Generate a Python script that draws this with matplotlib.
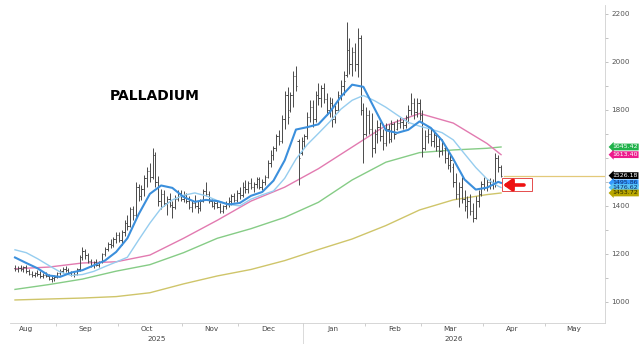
import matplotlib
matplotlib.use('Agg')
import matplotlib.pyplot as plt
import matplotlib.transforms as mtransforms
from matplotlib.patches import Rectangle
import numpy as np
import pandas as pd

# ---------------- data (daily OHLC, Palladium) ----------------
opens = [1140,1135,1142,1138,1145,1128,1118,1112,1120,1115,1106,1114,1108,1095,1100,1105,1120,1130,1138,1132,
         1120,1112,1118,1135,1185,1210,1195,1170,1155,1165,1152,1168,1198,1222,1240,1235,1262,1280,1258,1290,
         1330,1315,1385,1360,1480,1440,1470,1515,1545,1520,1610,1500,1420,1450,1410,1430,1405,1395,1430,1455,
         1430,1445,1420,1395,1410,1400,1390,1420,1460,1450,1420,1400,1410,1395,1380,1398,1412,1420,1440,1425,
         1455,1445,1480,1470,1495,1480,1490,1510,1478,1500,1520,1580,1610,1640,1690,1670,1760,1860,1800,1860,
         1940,1670,1620,1670,1690,1770,1810,1760,1860,1850,1890,1845,1800,1830,1760,1800,1860,1900,1945,2050,
         1990,2040,1990,2100,1800,1700,1780,1720,1640,1700,1730,1690,1660,1720,1680,1740,1720,1745,1750,1735,
         1770,1800,1830,1790,1830,1780,1640,1690,1700,1670,1695,1650,1630,1640,1600,1570,1560,1500,1450,1480,
         1430,1400,1420,1380,1350,1420,1450,1490,1480,1500,1485,1495,1600,1560]
highs = [1152,1148,1155,1150,1152,1138,1130,1125,1133,1128,1122,1126,1115,1110,1112,1125,1135,1146,1150,1142,
         1128,1125,1140,1195,1230,1222,1205,1180,1172,1178,1170,1205,1230,1250,1262,1270,1292,1290,1300,1342,
         1360,1396,1400,1500,1490,1485,1530,1560,1580,1640,1625,1525,1470,1468,1440,1455,1420,1445,1468,1465,
         1460,1455,1440,1425,1446,1420,1430,1470,1500,1462,1428,1420,1425,1410,1405,1420,1435,1450,1455,1465,
         1480,1500,1508,1505,1515,1500,1521,1520,1510,1530,1590,1633,1650,1700,1717,1780,1880,1895,1875,1960,
         1983,1680,1687,1700,1790,1842,1840,1880,1912,1905,1910,1870,1854,1850,1820,1880,1925,1960,2167,2100,
         2062,2080,2142,2110,1829,1812,1800,1787,1720,1758,1750,1720,1746,1740,1758,1750,1760,1771,1765,1780,
         1820,1871,1850,1850,1845,1800,1717,1729,1720,1710,1704,1690,1680,1646,1630,1610,1580,1537,1500,1520,
         1467,1440,1450,1410,1440,1467,1505,1521,1510,1515,1510,1621,1610,1571]
lows = [1128,1125,1130,1126,1120,1110,1105,1102,1108,1100,1098,1102,1090,1083,1088,1100,1112,1120,1125,1115,
        1106,1105,1112,1130,1175,1180,1160,1145,1140,1148,1145,1160,1190,1210,1225,1228,1245,1250,1237,1275,
        1300,1310,1340,1355,1420,1425,1440,1480,1500,1510,1480,1400,1385,1400,1360,1395,1350,1385,1420,1420,
        1415,1410,1385,1375,1390,1372,1380,1415,1440,1410,1395,1385,1390,1372,1370,1385,1395,1405,1415,1418,
        1430,1435,1455,1455,1470,1458,1475,1470,1465,1485,1515,1560,1590,1630,1655,1660,1720,1740,1790,1812,
        1880,1487,1610,1640,1680,1750,1729,1750,1820,1812,1830,1780,1771,1729,1745,1790,1840,1860,1937,1950,
        1940,1960,1937,1780,1579,1690,1700,1604,1620,1662,1670,1633,1650,1660,1667,1680,1715,1725,1720,1725,
        1746,1780,1760,1770,1758,1604,1633,1660,1650,1646,1630,1604,1610,1580,1555,1542,1480,1430,1396,1410,
        1380,1350,1360,1333,1345,1396,1440,1467,1460,1470,1470,1479,1540,1520]
closes = [1135,1142,1138,1145,1128,1118,1112,1120,1115,1106,1114,1108,1095,1100,1105,1120,1130,1138,1132,1120,
          1112,1118,1135,1185,1210,1195,1170,1155,1165,1152,1168,1198,1222,1240,1235,1262,1280,1258,1290,1330,
          1315,1385,1360,1480,1440,1470,1515,1545,1520,1610,1500,1420,1450,1410,1430,1405,1395,1430,1455,1430,
          1445,1420,1395,1410,1400,1390,1420,1460,1450,1420,1400,1410,1395,1380,1398,1412,1420,1440,1425,1455,
          1445,1480,1470,1495,1480,1490,1510,1478,1500,1520,1580,1610,1640,1690,1670,1760,1860,1770,1860,1940,
          1900,1600,1670,1690,1770,1810,1760,1860,1850,1890,1845,1800,1830,1760,1800,1860,1900,1920,2050,1990,
          2040,1990,2100,1800,1700,1780,1720,1640,1700,1730,1690,1660,1720,1680,1740,1700,1745,1750,1735,1770,
          1800,1830,1790,1830,1780,1640,1690,1700,1670,1695,1650,1630,1660,1600,1570,1590,1500,1450,1480,1430,
          1400,1420,1380,1350,1420,1450,1490,1480,1500,1485,1495,1600,1560,1526.18]

# moving averages (fast: every 4th bar + last, slow: every 12th bar + last)
ma_short = [1185,1162,1140,1110,1104,1122,1132,1152,1172,1208,1265,1365,1450,1485,1475,1437,1417,1425,1420,1406,
            1412,1442,1458,1505,1590,1718,1728,1740,1790,1855,1905,1896,1805,1715,1704,1717,1752,1725,1673,1595,
            1510,1468,1476,1500,1495.86]
ma_mid = [1217,1205,1180,1152,1125,1110,1114,1127,1147,1166,1186,1258,1328,1390,1425,1444,1454,1442,1422,1406,
          1400,1428,1446,1462,1515,1595,1655,1702,1750,1803,1840,1860,1838,1811,1779,1748,1732,1720,1705,1675,
          1617,1560,1512,1482,1476.62]
ma_pink = [1138,1145,1162,1167,1195,1265,1340,1420,1478,1555,1645,1735,1785,1745,1660,1613.40]
ma_green = [1052,1072,1095,1128,1155,1205,1265,1305,1352,1415,1508,1582,1622,1633,1640,1645.42]
ma_olive = [1008,1012,1016,1022,1038,1075,1108,1135,1172,1218,1262,1318,1383,1425,1447,1453.72]

tag_values = [1645.42, 1613.40, 1526.18, 1495.86, 1476.62, 1453.72]
tag_colors = ['#21b24b', '#ec1c8c', '#000000', '#3399ff', '#59c3f5', '#b8a600']
tag_text_colors = ['white', 'white', 'white', '#10306a', '#10306a', '#2a2a00']

y_ticks = [1000, 1200, 1400, 1600, 1800, 2000, 2200]
y_ticklabels = ['1000', '1200', '1400', '', '1800', '2000', '2200']  # 1600 hidden behind the tags
month_names = ['Aug', 'Sep', 'Oct', 'Nov', 'Dec', 'Jan', 'Feb', 'Mar', 'Apr', 'May']
year_labels = ['2025', '2026']

# ---------------- figure ----------------
n = len(closes)
all_days = pd.bdate_range('2025-08-11', '2026-05-29')
x = np.arange(n)

W, H = 643, 344
fig = plt.figure(figsize=(W / 100, H / 100), dpi=100)
ax = fig.add_axes([10 / W, 21 / H, 595 / W, 318 / H])
x_left, x_right = -1.78, 210
ax.set_xlim(x_left, x_right)
ax.set_ylim(912, 2237)

# OHLC bars
bar_c = '#4a4a4a'
ax.vlines(x, lows, highs, color=bar_c, lw=0.7, zorder=3)
ax.hlines(opens, x - 0.45, x, color=bar_c, lw=0.7, zorder=3)
ax.hlines(closes, x, x + 0.45, color=bar_c, lw=0.7, zorder=3)

fast_idx = list(range(0, n, 4)) + [n - 1]
slow_idx = list(range(0, n, 12)) + [n - 1]
ax.plot(slow_idx, ma_olive, color='#cfc56a', lw=1.0, zorder=2)
ax.plot(slow_idx, ma_green, color='#86cc86', lw=1.0, zorder=2)
ax.plot(slow_idx, ma_pink, color='#e27ab0', lw=1.0, zorder=2)
ax.plot(fast_idx, ma_mid, color='#96cdef', lw=1.0, zorder=4)
ax.plot(fast_idx, ma_short, color='#3b8fdc', lw=1.5, zorder=4)

# last price line
ax.plot([n - 1 + 1.2, x_right], [closes[-1], closes[-1]], color='#e3c97a', lw=0.9, zorder=2)

# axes styling
for s in ['left', 'top']:
    ax.spines[s].set_visible(False)
for s in ['right', 'bottom']:
    ax.spines[s].set_color('#d0d0d0')
    ax.spines[s].set_linewidth(0.6)

ax.yaxis.tick_right()
ax.set_yticks(y_ticks)
ax.set_yticklabels(y_ticklabels)
ax.set_yticks(np.arange(1100, 2200, 200), minor=True)
ax.tick_params(axis='y', which='both', labelsize=5.2, colors='#aaaaaa', length=2.5, width=0.5, pad=2)
for lab in ax.get_yticklabels():
    lab.set_color('#555555')

# month labels at mid-month, minor ticks at month starts
mid_pos, start_pos = [], []
for m in pd.date_range('2025-08-01', '2026-05-01', freq='MS'):
    mid_pos.append(int(np.searchsorted(all_days, m + pd.Timedelta(days=14))))
for m in pd.date_range('2025-09-01', '2026-05-01', freq='MS'):
    start_pos.append(int(np.searchsorted(all_days, m)) - 0.5)
ax.set_xticks(mid_pos)
ax.set_xticklabels(month_names)
ax.set_xticks(start_pos, minor=True)
ax.tick_params(axis='x', which='major', length=0, labelsize=5.2, labelcolor='#444444', pad=2)
ax.tick_params(axis='x', which='minor', length=2, width=0.5, color='#bbbbbb')

# year labels and separator
trans = mtransforms.blended_transform_factory(ax.transData, ax.transAxes)
year_break = int(np.searchsorted(all_days, pd.Timestamp('2026-01-01'))) - 0.5
ax.plot([year_break, year_break], [0, -0.075], color='#d5d5d5', lw=0.6, transform=trans, clip_on=False)
ax.text((x_left + year_break) / 2, -0.05, year_labels[0], transform=trans, ha='center', va='center',
        fontsize=5.2, color='#444444')
ax.text((year_break + x_right) / 2, -0.05, year_labels[1], transform=trans, ha='center', va='center',
        fontsize=5.2, color='#444444')

# right-hand value tags
ttrans = mtransforms.blended_transform_factory(ax.transAxes, ax.transData)
for v, c, tc in zip(tag_values, tag_colors, tag_text_colors):
    ax.annotate(f'{v:.2f}', xy=(1.0, v), xycoords=ttrans, xytext=(5.2, 0), textcoords='offset points',
                ha='left', va='center', fontsize=4.5, color=tc, zorder=10, annotation_clip=False,
                bbox=dict(boxstyle='larrow,pad=0.14', fc=c, ec='none'))

# title text
fig.text(110 / W, (H - 96) / H, 'PALLADIUM', fontsize=10, fontweight='bold', ha='left', va='center',
         color='black')

# red box and arrow annotation
fig.patches.append(Rectangle((502 / W, (H - 191) / H), 30 / W, 13 / H, transform=fig.transFigure,
                             fill=False, ec='#e03030', lw=0.6))
ax.annotate('', xy=(503, H - 185), xycoords='figure pixels', xytext=(524, H - 185),
            textcoords='figure pixels',
            arrowprops=dict(arrowstyle='-|>,head_width=0.35,head_length=0.5', color='#ee1111', lw=2.6,
                            shrinkA=0, shrinkB=0), annotation_clip=False)

fig.savefig('out.png', dpi=100)
